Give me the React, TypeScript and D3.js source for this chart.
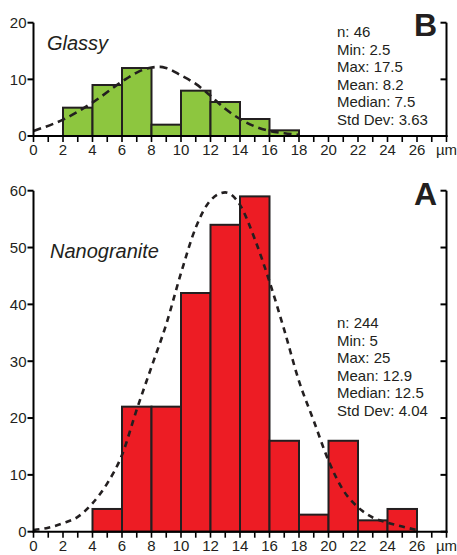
import React from 'react'
import * as d3 from 'd3'

// bins are 2 µm wide, keyed by lower edge
const glassyBins = [2, 4, 6, 8, 10, 12, 14, 16]
const glassyCounts = [5, 9, 12, 2, 8, 6, 3, 1]
const glassyCurveX = [0, 2, 4, 6, 7, 8, 8.6, 9, 10, 11, 12, 13, 14, 15, 16, 17, 18]
const glassyCurveY = [0.9, 2.9, 5.9, 9.6, 11.2, 12.1, 12.2, 12.0, 10.7, 9.2, 7.1, 4.8, 3.0, 1.7, 0.9, 0.5, 0.2]
const glassyStats = ['n: 46', 'Min: 2.5', 'Max: 17.5', 'Mean: 8.2', 'Median: 7.5', 'Std Dev: 3.63']

const nanoBins = [4, 6, 8, 10, 12, 14, 16, 18, 20, 22, 24]
const nanoCounts = [4, 22, 22, 42, 54, 59, 16, 3, 16, 2, 4]
const nanoCurveX = [0, 1, 2, 3, 4, 5, 6, 7, 8, 9, 10, 11, 12, 13, 14, 15, 16, 17, 18, 19, 20, 21, 22, 23, 24, 25, 26]
const nanoCurveY = [0.3, 0.7, 1.5, 2.6, 5, 8.5, 13.5, 21.5, 29, 36.5, 45.5, 53.5, 58.3, 59.7, 57.5, 51.5, 44, 35.5, 26.5, 19.5, 12.5, 7.3, 4.3, 2.5, 1.6, 0.9, 0.3]
const nanoStats = ['n: 244', 'Min: 5', 'Max: 25', 'Mean: 12.9', 'Median: 12.5', 'Std Dev: 4.04']

const xTickLabels = ['0', '2', '4', '6', '8', '10', '12', '14', '16', '18', '20', '22', '24', '26', 'µm']
const glassyYTicks = [0, 10, 20]
const nanoYTicks = [0, 10, 20, 30, 40, 50, 60]

const font = 'Liberation Sans, Arial, Helvetica, sans-serif'
const ink = '#231F20'

const x = d3.scaleLinear().domain([0, 28]).range([33.5, 446.5])

function Panel(props: any) {
  const { y, bins, counts, cx, cy, ticks, fill, dash, stats, statsY, title, titleY, letter, letterY } = props
  const y0 = y(0)
  const line = d3.line<number>()
    .x((d, i) => x(cx[i]))
    .y(d => y(d))
    .curve(d3.curveMonotoneX)
  const minor = d3.range(0, 29)
  return (
    <g>
      {bins.map((b: number, i: number) => (
        <rect key={b} x={x(b)} y={y(counts[i])} width={x(b + 2) - x(b)} height={y0 - y(counts[i])}
          fill={fill} stroke={ink} strokeWidth={2} />
      ))}
      <path d={line(cy) || ''} fill="none" stroke={ink} strokeWidth={2.6} strokeDasharray={dash} />
      {/* left axis */}
      <line x1={x(0)} x2={x(0)} y1={y(ticks[ticks.length - 1])} y2={y0 + 1} stroke="#000" strokeWidth={2} />
      {ticks.map((t: number) => (
        <g key={t}>
          <line x1={x(0) - 6} x2={x(0)} y1={y(t)} y2={y(t)} stroke="#000" strokeWidth={2} />
          <text x={x(0) - 7} y={y(t)} dy="0.36em" textAnchor="end" fontSize={15} fontFamily={font} fill={ink}>{t}</text>
          <line x1={x(28) - 6} x2={x(28)} y1={y(t)} y2={y(t)} stroke="#000" strokeWidth={2} />
        </g>
      ))}
      {/* right axis */}
      <line x1={x(28)} x2={x(28)} y1={y(ticks[ticks.length - 1])} y2={y0 + 1} stroke="#000" strokeWidth={2} />
      {/* bottom axis */}
      <line x1={x(0) - 1} x2={x(28) + 1} y1={y0} y2={y0} stroke="#000" strokeWidth={2} />
      {minor.map(m => (
        <line key={m} x1={x(m)} x2={x(m)} y1={y0} y2={y0 + 6} stroke="#000" strokeWidth={1.6} />
      ))}
      {xTickLabels.map((l, i) => (
        <text key={l} x={x(i * 2)} y={y0 + 13.5} dy="0.36em" textAnchor="middle" fontSize={15} fontFamily={font} fill={ink}>{l}</text>
      ))}
      <text x={title[1]} y={titleY} fontSize={20} fontStyle="italic" fontFamily={font} fill={ink}>{title[0]}</text>
      <text x={437} y={letterY} textAnchor="end" fontSize={32} fontWeight="bold" fontFamily={font} fill={ink}>{letter}</text>
      {stats.map((s: string, i: number) => (
        <text key={s} x={337} y={statsY + i * 17.6} fontSize={15} fontFamily={font} fill={ink}>{s}</text>
      ))}
    </g>
  )
}

export default function App() {
  const yTop = d3.scaleLinear().domain([0, 20]).range([136, 22.7])
  const yBot = d3.scaleLinear().domain([0, 60]).range([531.7, 190.7])
  return (
    <svg width={457} height={555} style={{ position: 'absolute', left: 0, top: 0 }}>
      <rect width={457} height={555} fill="#fff" />
      <Panel y={yTop} bins={glassyBins} counts={glassyCounts} cx={glassyCurveX} cy={glassyCurveY}
        ticks={glassyYTicks} fill="#8DC63F" dash="8,5" stats={glassyStats} statsY={37}
        title={['Glassy', 47]} titleY={50} letter="B" letterY={36} />
      <Panel y={yBot} bins={nanoBins} counts={nanoCounts} cx={nanoCurveX} cy={nanoCurveY}
        ticks={nanoYTicks} fill="#ED1C24" dash="6,5" stats={nanoStats} statsY={328}
        title={['Nanogranite', 50]} titleY={258} letter="A" letterY={205} />
    </svg>
  )
}
